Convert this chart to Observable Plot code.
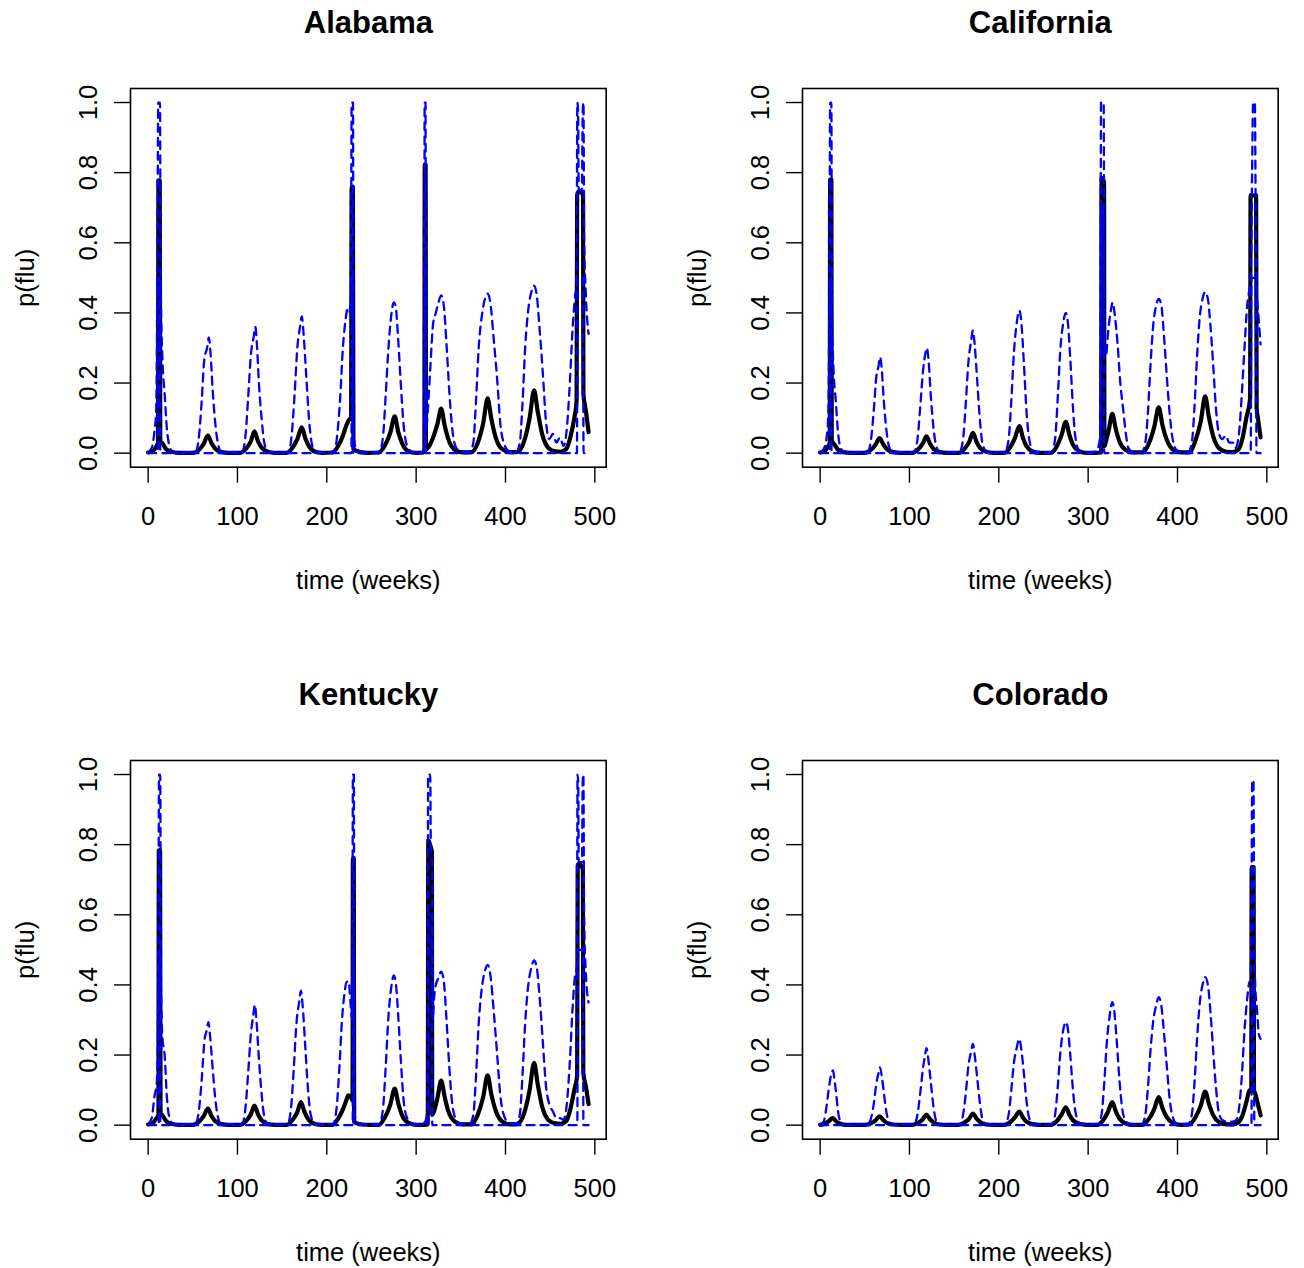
<!DOCTYPE html>
<html><head><meta charset="utf-8">
<script src="https://cdn.jsdelivr.net/npm/d3@7"></script>
<script src="https://cdn.jsdelivr.net/npm/@observablehq/plot@0.6"></script>
<style>
body{margin:0;background:#fff;}
#root{position:relative;width:1304px;height:1268px;background:#fff;overflow:hidden;}
.panel{position:absolute;}
</style></head><body><div id="root"></div>
<script>
// ---- tick values / labels ----
const xTicks = [0, 100, 200, 300, 400, 500];
const yTicks = [0, 0.2, 0.4, 0.6, 0.8, 1.0];
const yTickLabels = ["0.0", "0.2", "0.4", "0.6", "0.8", "1.0"];
const xLabel = "time (weeks)";
const yLabel = "p(flu)";
const stateNames = ["Alabama", "California", "Kentucky", "Colorado"];

// ---- Alabama: [week, p(flu)] ----
const alabamaMean = [[0,0.002],[5,0.006],[9,0.018],[11,0.03],[11.6,0.778],[13,0.778],[13.6,0.035],[16,0.028],[20,0.012],[26,0.004],[34,0.001],
[50,0.001],[57,0.01],[62,0.026],[67,0.05],[71,0.028],[75,0.013],[82,0.003],[90,0.001],
[103,0.001],[110,0.014],[115,0.034],[119,0.062],[123,0.034],[127,0.016],[134,0.004],[142,0.001],
[155,0.001],[162,0.017],[167,0.04],[172,0.074],[176,0.042],[180,0.02],[187,0.004],[195,0.001],
[206,0.002],[213,0.022],[218,0.05],[222,0.08],[225,0.096],[227.2,0.1],[227.8,0.759],[229.2,0.759],[229.8,0.012],[232,0.008],[238,0.003],[246,0.001],
[258,0.002],[265,0.022],[271,0.058],[276,0.105],[280,0.06],[284,0.03],[291,0.006],[300,0.001],
[308,0.002],[309.2,0.004],[309.6,0.823],[310.6,0.823],[311,0.01],[314,0.018],[319,0.045],[324,0.085],[328,0.127],[332,0.078],[336,0.04],[343,0.01],[352,0.002],
[362,0.003],[369,0.03],[375,0.085],[380,0.156],[384,0.1],[389,0.045],[396,0.012],[405,0.003],
[413,0.003],[421,0.035],[427,0.1],[432,0.179],[436,0.12],[441,0.055],[448,0.015],[456,0.005],[462,0.004],
[468,0.012],[473,0.05],[477,0.1],[479.6,0.15],[480.2,0.735],[481.5,0.745],[483.5,0.748],[485.5,0.742],[486.8,0.735],[487.2,0.17],[490,0.12],[493,0.06]];
const alabamaUpper = [[0,0.003],[4,0.015],[7,0.06],[9,0.12],[10.5,0.6],[11.3,1.0],[13.3,1.0],[14,0.5],[16,0.27],[18.5,0.17],[21,0.07],[24,0.02],[28,0.003],
[53,0.003],[57,0.05],[60,0.15],[63,0.27],[66,0.3],[68,0.33],[70,0.28],[72,0.19],[75,0.09],[78,0.03],[82,0.003],
[105,0.003],[109,0.05],[112,0.16],[115,0.28],[118,0.33],[120,0.36],[122,0.3],[124,0.2],[127,0.1],[130,0.03],[134,0.003],
[157,0.003],[161,0.06],[164,0.17],[167,0.3],[170,0.36],[172,0.39],[174,0.34],[177,0.22],[180,0.1],[183,0.03],[187,0.003],
[208,0.003],[212,0.06],[215,0.16],[218,0.3],[221,0.38],[223,0.41],[225,0.4],[227,0.45],[227.8,1.0],[229.3,1.0],[230,0.05],[233,0.012],[238,0.003],
[259,0.003],[263,0.05],[266,0.17],[269,0.3],[272,0.39],[275,0.43],[277,0.42],[280,0.32],[283,0.19],[286,0.08],[290,0.02],[296,0.003],
[306,0.003],[309,0.01],[309.5,1.0],[310.5,1.0],[311,0.06],[313,0.12],[316,0.25],[319,0.37],[322,0.4],[325,0.43],[328,0.45],[331,0.42],[334,0.31],[337,0.18],[340,0.08],[344,0.02],[350,0.004],
[360,0.004],[364,0.03],[367,0.15],[370,0.3],[374,0.4],[377,0.44],[380,0.455],[383,0.43],[387,0.32],[391,0.2],[394,0.09],[398,0.03],[404,0.006],
[412,0.005],[416,0.03],[419,0.14],[422,0.3],[426,0.42],[429,0.46],[432,0.478],[435,0.45],[438,0.36],[442,0.22],[445,0.1],[449,0.04],[453,0.055],[457,0.03],[461,0.045],
[465,0.02],[469,0.08],[472,0.2],[475,0.35],[478,0.45],[479.6,0.48],[480.4,1.0],[481.2,0.98],[482,0.75],[485.5,0.75],[486.5,0.98],[487.3,1.0],[488,0.62],[490,0.45],[493,0.34]];
const alabamaLower = [[0,0],[11,0],[11.6,0.5],[13,0.5],[13.6,0],[227.6,0],[228,0.5],[229,0.5],[229.6,0],[309.4,0],[309.8,0.55],[310.4,0.55],[310.8,0],[480,0],[480.6,0.5],[486.6,0.5],[487.4,0],[493,0]];

// ---- California ----
const californiaMean = [[0,0.002],[5,0.006],[9,0.02],[10.8,0.03],[11.2,0.78],[12.6,0.78],[13,0.036],[16,0.025],[20,0.01],[26,0.003],[34,0.001],
[50,0.001],[57,0.01],[62,0.024],[66.5,0.043],[71,0.024],[75,0.011],[82,0.003],[90,0.001],
[103,0.001],[110,0.012],[115,0.028],[119,0.048],[123,0.027],[127,0.012],[134,0.003],[142,0.001],
[155,0.001],[162,0.014],[167,0.033],[171,0.058],[175,0.033],[179,0.015],[186,0.004],[194,0.001],
[206,0.001],[213,0.018],[218,0.043],[223,0.077],[227,0.044],[231,0.02],[238,0.005],[246,0.001],
[258,0.001],[265,0.02],[270,0.05],[275,0.089],[279,0.052],[283,0.024],[290,0.006],[298,0.001],
[308,0.001],[314.6,0.002],[315,0.785],[316.5,0.782],[317.8,0.77],[318.2,0.02],[320,0.035],[323,0.065],[327,0.112],[331,0.068],[335,0.033],[342,0.009],[350,0.002],
[361,0.002],[368,0.028],[374,0.075],[379,0.131],[383,0.082],[388,0.038],[395,0.01],[404,0.002],
[413,0.002],[420,0.035],[426,0.09],[431,0.162],[435,0.105],[440,0.048],[447,0.013],[455,0.004],[462,0.003],
[468,0.01],[473,0.045],[477,0.1],[481.3,0.156],[481.8,0.735],[488,0.735],[488.6,0.13],[490,0.1],[493,0.045]];
const californiaUpper = [[0,0.003],[4,0.012],[7,0.04],[9,0.1],[10.6,0.6],[11.2,1.0],[12.6,1.0],[13.2,0.4],[15,0.24],[17.5,0.15],[20,0.06],[23,0.015],[27,0.003],
[53,0.003],[57,0.04],[60,0.12],[63,0.22],[65.5,0.25],[67,0.274],[69,0.24],[71,0.16],[74,0.07],[77,0.02],[81,0.003],
[105,0.003],[109,0.04],[112,0.13],[115,0.23],[117.5,0.28],[119.5,0.3],[121.5,0.26],[124,0.16],[127,0.07],[130,0.02],[134,0.003],
[156,0.003],[160,0.04],[163,0.14],[166,0.26],[169,0.32],[171,0.35],[173,0.31],[176,0.2],[179,0.09],[182,0.025],[187,0.003],
[207,0.003],[211,0.04],[214,0.15],[217,0.29],[220,0.37],[223,0.407],[225,0.38],[228,0.26],[231,0.12],[234,0.04],[239,0.004],
[259,0.003],[263,0.04],[266,0.16],[269,0.3],[272,0.37],[275,0.4],[277,0.38],[280,0.27],[283,0.13],[286,0.04],[291,0.004],
[305,0.003],[310,0.01],[313.6,0.05],[314.4,1.0],[317.4,1.0],[318.2,0.3],[320,0.28],[322.5,0.35],[325,0.4],[327.5,0.43],[330,0.39],[333,0.31],[336,0.2],[339,0.13],[342,0.06],[345,0.015],[350,0.003],
[360,0.003],[364,0.03],[367,0.12],[370,0.26],[373,0.37],[376,0.42],[379,0.44],[382,0.42],[385,0.33],[388,0.22],[391,0.12],[394,0.05],[398,0.012],[404,0.003],
[412,0.004],[416,0.03],[419,0.13],[422,0.28],[425,0.39],[428,0.44],[431,0.46],[434,0.44],[437,0.36],[440,0.25],[443,0.13],[446,0.06],[450,0.04],[454,0.05],[458,0.03],[462,0.03],
[465,0.015],[469,0.06],[472,0.17],[475,0.3],[478,0.42],[480,0.46],[482,0.5],[483.5,0.8],[484.6,1.0],[486.6,1.0],[487.5,0.7],[489,0.45],[491,0.38],[493,0.31]];
const californiaLower = [[0,0],[11,0],[11.4,0.5],[12.4,0.5],[12.8,0],[314.2,0],[314.8,0.7],[317.4,0.7],[318,0],[482,0],[482.6,0.5],[487.8,0.5],[488.4,0],[493,0]];

// ---- Kentucky ----
const kentuckyMean = [[0,0.002],[5,0.006],[9,0.018],[11.5,0.03],[12,0.784],[13.4,0.784],[13.9,0.035],[16,0.028],[20,0.012],[26,0.004],[34,0.001],
[50,0.001],[57,0.01],[62,0.025],[67,0.047],[71,0.026],[75,0.012],[82,0.003],[90,0.001],
[103,0.001],[110,0.013],[115,0.031],[119,0.056],[123,0.031],[127,0.014],[134,0.003],[142,0.001],
[155,0.001],[162,0.016],[167,0.037],[171,0.066],[175,0.038],[179,0.018],[186,0.004],[194,0.001],
[206,0.001],[213,0.02],[218,0.045],[222,0.072],[224,0.085],[227,0.08],[228.8,0.07],[229.2,0.762],[230.2,0.762],[230.6,0.01],[233,0.006],[240,0.002],[248,0.001],
[258,0.001],[265,0.022],[271,0.058],[276,0.104],[280,0.062],[284,0.03],[291,0.007],[300,0.001],
[308,0.001],[313,0.002],[313.6,0.812],[315.5,0.8],[317.6,0.78],[318,0.03],[320,0.04],[324,0.08],[328,0.127],[332,0.08],[336,0.04],[343,0.011],[352,0.002],
[362,0.002],[369,0.03],[375,0.08],[380,0.142],[384,0.09],[389,0.042],[396,0.011],[405,0.002],
[413,0.003],[421,0.035],[427,0.1],[432,0.178],[436,0.118],[441,0.053],[448,0.015],[456,0.005],[462,0.004],
[468,0.012],[473,0.05],[477,0.1],[480.2,0.14],[480.8,0.74],[482,0.745],[486.6,0.73],[487.1,0.15],[490,0.11],[493,0.06]];
const kentuckyUpper = [[0,0.003],[4,0.02],[7,0.08],[10,0.13],[11.5,0.5],[12.2,1.0],[13.6,1.0],[14.3,0.4],[16,0.25],[18.5,0.2],[21,0.08],[24,0.02],[28,0.003],
[53,0.003],[57,0.045],[60,0.13],[63,0.24],[65.5,0.27],[67.5,0.294],[69.5,0.25],[72,0.17],[75,0.08],[78,0.025],[82,0.003],
[105,0.003],[109,0.05],[112,0.15],[115,0.26],[117.5,0.31],[119.5,0.343],[121.5,0.29],[124,0.19],[127,0.09],[130,0.025],[134,0.003],
[156,0.003],[160,0.05],[163,0.16],[166,0.29],[169,0.35],[171,0.384],[173,0.34],[176,0.22],[179,0.1],[182,0.03],[187,0.003],
[207,0.003],[211,0.05],[214,0.16],[217,0.3],[220,0.38],[222,0.408],[224.5,0.41],[226.5,0.35],[228.5,0.3],[229.2,1.0],[230.3,1.0],[230.8,0.04],[233,0.012],[238,0.003],
[259,0.003],[263,0.05],[266,0.17],[269,0.31],[272,0.39],[275,0.427],[277,0.41],[280,0.31],[283,0.18],[286,0.07],[290,0.02],[296,0.003],
[305,0.003],[310,0.01],[312.8,0.05],[313.4,1.0],[315.8,1.0],[316.4,0.8],[318,0.75],[318.6,0.3],[320,0.36],[322,0.4],[325,0.42],[328,0.438],[331,0.41],[334,0.3],[337,0.17],[340,0.07],[344,0.02],[350,0.004],
[360,0.004],[364,0.03],[367,0.14],[370,0.29],[374,0.4],[377,0.44],[380,0.457],[383,0.43],[387,0.32],[391,0.19],[394,0.09],[398,0.03],[404,0.006],
[412,0.005],[416,0.03],[419,0.14],[422,0.29],[426,0.41],[429,0.45],[432,0.47],[435,0.45],[438,0.37],[442,0.23],[445,0.12],[449,0.06],[453,0.04],[457,0.02],[461,0.02],
[465,0.015],[469,0.07],[472,0.18],[475,0.33],[478,0.43],[480,0.45],[480.6,1.0],[481.4,0.98],[482,0.75],[485.6,0.75],[486.4,0.98],[487.2,1.0],[488,0.6],[490,0.43],[493,0.35]];
const kentuckyLower = [[0,0],[12,0],[12.4,0.5],[13.2,0.5],[13.6,0],[229,0],[229.4,0.5],[230,0.5],[230.4,0],[313.4,0],[314,0.6],[317.4,0.6],[318,0],[480.4,0],[481,0.5],[486.6,0.5],[487.2,0],[493,0]];

// ---- Colorado ----
const coloradoMean = [[0,0.001],[5,0.004],[10,0.012],[14,0.02],[18,0.011],[22,0.005],[30,0.001],
[50,0.001],[57,0.006],[62,0.014],[66.5,0.025],[71,0.014],[75,0.006],[82,0.002],[90,0.001],
[103,0.001],[110,0.007],[115,0.017],[119,0.03],[123,0.017],[127,0.008],[134,0.002],[142,0.001],
[155,0.001],[162,0.008],[167,0.019],[171,0.033],[175,0.019],[179,0.009],[186,0.002],[194,0.001],
[206,0.001],[213,0.009],[218,0.022],[223,0.039],[227,0.022],[231,0.01],[238,0.003],[246,0.001],
[258,0.001],[265,0.012],[270,0.029],[275,0.051],[279,0.03],[283,0.014],[290,0.004],[298,0.001],
[310,0.001],[317,0.015],[322,0.037],[327,0.066],[331,0.039],[335,0.019],[342,0.005],[350,0.001],
[361,0.001],[368,0.018],[374,0.046],[379,0.08],[383,0.05],[388,0.023],[395,0.006],[404,0.001],
[413,0.002],[420,0.022],[426,0.055],[431,0.096],[435,0.062],[440,0.028],[447,0.008],[455,0.002],[462,0.002],
[468,0.008],[473,0.03],[477,0.065],[481,0.1],[482.6,0.1],[483,0.736],[485.2,0.736],[485.6,0.1],[487,0.09],[490,0.06],[493,0.028]];
const coloradoUpper = [[0,0.002],[4,0.01],[7,0.05],[10,0.11],[13,0.15],[14.5,0.156],[16,0.13],[18,0.09],[20,0.04],[23,0.01],[27,0.002],
[53,0.002],[57,0.02],[60,0.06],[63,0.12],[65.5,0.15],[67,0.165],[69,0.14],[71,0.1],[74,0.04],[77,0.01],[81,0.002],
[105,0.002],[109,0.03],[112,0.09],[115,0.16],[117.5,0.2],[119,0.22],[121,0.19],[124,0.12],[127,0.05],[130,0.012],[134,0.002],
[156,0.002],[160,0.03],[163,0.09],[166,0.17],[169,0.21],[171,0.232],[173,0.2],[176,0.13],[179,0.06],[182,0.015],[187,0.002],
[207,0.002],[211,0.03],[214,0.1],[217,0.18],[220,0.22],[223,0.246],[225,0.22],[228,0.15],[231,0.07],[234,0.02],[239,0.002],
[259,0.002],[263,0.03],[266,0.11],[269,0.21],[272,0.27],[275,0.294],[277,0.28],[280,0.2],[283,0.1],[286,0.035],[291,0.004],
[311,0.003],[315,0.03],[318,0.12],[321,0.24],[324,0.31],[327,0.351],[329,0.33],[332,0.24],[335,0.13],[338,0.05],[342,0.012],[348,0.002],
[360,0.003],[364,0.03],[367,0.11],[370,0.22],[373,0.3],[376,0.34],[379,0.365],[382,0.34],[385,0.26],[388,0.17],[391,0.08],[394,0.03],[399,0.005],
[412,0.003],[416,0.03],[419,0.12],[422,0.25],[425,0.35],[428,0.4],[431,0.422],[434,0.4],[437,0.32],[440,0.21],[443,0.11],[446,0.04],[450,0.015],[456,0.01],[462,0.01],
[466,0.015],[469,0.05],[472,0.14],[475,0.27],[478,0.36],[480.5,0.408],[482,0.41],[482.8,0.6],[483.6,0.983],[485,0.983],[485.8,0.6],[487,0.4],[489,0.33],[491,0.26],[493,0.246]];
const coloradoLower = [[0,0],[482.8,0],[483.4,0.4],[485.4,0.4],[486,0],[493,0]];

// ---- layout of the four panels (pixel margins) ----
const panels = [
  {title: stateNames[0], mean: alabamaMean, upper: alabamaUpper, lower: alabamaLower, left: 0, top: 0, mL: 130, mR: 46.3, mT: 88, mB: 167.3},
  {title: stateNames[1], mean: californiaMean, upper: californiaUpper, lower: californiaLower, left: 652, top: 0, mL: 150, mR: 26.3, mT: 88, mB: 167.3},
  {title: stateNames[2], mean: kentuckyMean, upper: kentuckyUpper, lower: kentuckyLower, left: 0, top: 634, mL: 130, mR: 46.3, mT: 126, mB: 129.3},
  {title: stateNames[3], mean: coloradoMean, upper: coloradoUpper, lower: coloradoLower, left: 652, top: 634, mL: 150, mR: 26.3, mT: 126, mB: 129.3}
];

const FONT = '"Liberation Sans", Arial, Helvetica, sans-serif';
const toRows = arr => arr.map(([w, v]) => ({w, v}));
const root = document.getElementById("root");

for (const p of panels) {
  const chart = Plot.plot({
    width: 652, height: 634,
    marginLeft: p.mL, marginRight: p.mR, marginTop: p.mT, marginBottom: p.mB,
    x: {domain: [-19.72, 512.72]},
    y: {domain: [-0.04, 1.04]},
    style: {fontFamily: FONT, background: "white", color: "black", overflow: "visible"},
    marks: [
      Plot.line(toRows(p.mean), {x: "w", y: "v", stroke: "black", strokeWidth: 4.2, curve: "monotone-x", strokeLinejoin: "round"}),
      Plot.line(toRows(p.upper), {x: "w", y: "v", stroke: "#0000ff", strokeWidth: 2.3, strokeDasharray: "8,6", curve: "monotone-x"}),
      Plot.line(toRows(p.lower), {x: "w", y: "v", stroke: "#0000ff", strokeWidth: 2.3, strokeDasharray: "8,6", curve: "monotone-x"}),
      Plot.frame({stroke: "black", strokeWidth: 1.6}),
      Plot.axisX({ticks: xTicks, tickSize: 16, tickFormat: () => "", label: null, strokeWidth: 1.4}),
      Plot.axisY({ticks: yTicks, tickSize: 16, tickFormat: () => "", label: null, strokeWidth: 1.4}),
      Plot.text(xTicks, {x: d => d, text: d => String(d), frameAnchor: "bottom", dy: 49.5, fontSize: 25.5, textAnchor: "middle", lineAnchor: "middle", fill: "black"}),
      Plot.text(yTicks, {y: d => d, text: (d, i) => yTickLabels[i], frameAnchor: "left", dx: -42, rotate: -90, fontSize: 25.5, textAnchor: "middle", lineAnchor: "middle", fill: "black"}),
      Plot.text([p.title], {text: d => d, frameAnchor: "top", dy: -65, fontSize: 31, fontWeight: "bold", textAnchor: "middle", lineAnchor: "middle", fill: "black"}),
      Plot.text([xLabel], {text: d => d, frameAnchor: "bottom", dy: 113.3, fontSize: 25.5, textAnchor: "middle", lineAnchor: "middle", fill: "black"}),
      Plot.text([yLabel], {text: d => d, frameAnchor: "left", dx: -105, rotate: -90, fontSize: 25.5, textAnchor: "middle", lineAnchor: "middle", fill: "black"})
    ]
  });
  const div = document.createElement("div");
  div.className = "panel";
  div.style.left = p.left + "px";
  div.style.top = p.top + "px";
  div.appendChild(chart);
  root.appendChild(div);
}
</script></body></html>
